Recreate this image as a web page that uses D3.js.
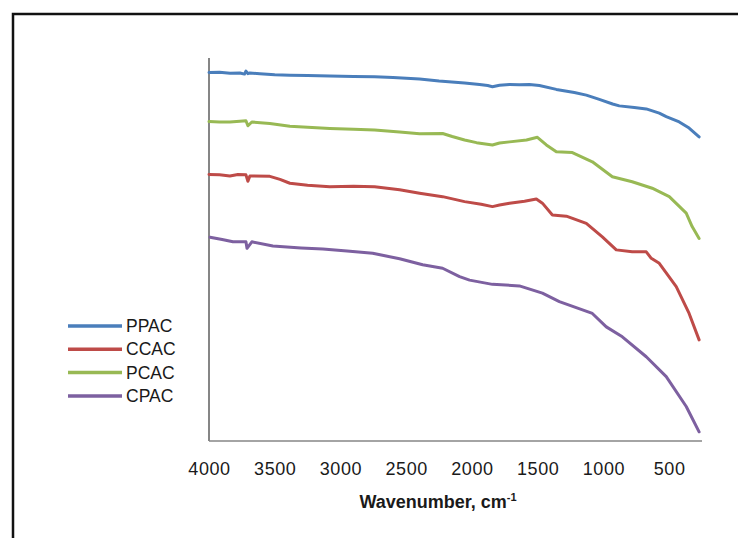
<!DOCTYPE html>
<html>
<head>
<meta charset="utf-8">
<script src="https://cdn.jsdelivr.net/npm/d3@7"></script>
<style>
  body { margin: 0; background: #fff; }
  svg { display: block; }
</style>
</head>
<body>
<div id="chart"></div>
<script>
// FTIR spectra: [wavenumber cm-1, transmittance (a.u.)]
const PPAC = [[4000,96.2],[3920,96.3],[3840,96.0],[3765,96.1],[3730,95.8],[3719,96.6],[3704,95.9],[3689,96.1],[3613,95.9],
  [3500,95.6],[3385,95.5],[3250,95.4],[3081,95.3],[2900,95.2],[2740,95.1],[2600,94.9],[2398,94.5],[2250,94.0],[2056,93.5],
  [1942,93.1],[1880,92.8],[1844,92.5],[1790,92.9],[1714,93.1],[1640,93.0],[1563,93.1],[1487,92.8],[1358,91.8],[1221,91.0],
  [1130,90.3],[1031,89.2],[930,88.0],[879,87.5],[765,87.1],[674,86.7],[575,85.6],[522,84.7],[423,83.3],[348,81.7],[272,79.4]];

const CCAC = [[4000,69.6],[3920,69.5],[3841,69.2],[3780,69.6],[3719,69.5],[3704,67.8],[3689,69.2],[3537,69.1],[3460,68.3],
  [3385,67.3],[3250,66.8],[3081,66.4],[2900,66.5],[2740,66.4],[2550,65.6],[2398,64.7],[2223,63.8],[2056,62.5],[1930,61.8],
  [1844,61.2],[1790,61.6],[1714,62.1],[1600,62.6],[1510,63.2],[1464,62.1],[1388,59.0],[1282,58.7],[1130,56.8],[1008,53.3],
  [902,49.9],[781,49.4],[674,49.4],[636,47.7],[575,46.4],[446,40.3],[348,33.3],[272,26.4]];

const PCAC = [[4000,83.4],[3920,83.3],[3841,83.3],[3765,83.5],[3719,83.6],[3704,82.3],[3674,83.3],[3537,82.9],[3385,82.2],
  [3250,81.9],[3081,81.6],[2900,81.4],[2740,81.2],[2550,80.7],[2398,80.2],[2223,80.3],[2150,79.5],[2056,78.6],[1965,77.9],
  [1844,77.3],[1790,77.8],[1714,78.1],[1585,78.6],[1502,79.3],[1434,77.3],[1358,75.5],[1236,75.3],[1084,72.9],[932,69.0],
  [781,67.7],[629,66.0],[499,63.8],[370,59.5],[325,56.0],[272,52.9]];

const CPAC = [[3992,53.2],[3900,52.6],[3818,52.0],[3719,52.0],[3711,50.3],[3674,52.0],[3514,50.9],[3300,50.4],[3134,50.1],
  [2950,49.6],[2755,49.0],[2550,47.6],[2375,46.0],[2223,45.1],[2094,42.9],[2018,42.0],[1844,40.9],[1639,40.5],[1464,38.6],
  [1335,36.4],[1084,33.3],[978,29.8],[856,27.2],[674,22.0],[522,16.8],[370,9.0],[272,2.4]];

const seriesNames = ['PPAC', 'CCAC', 'PCAC', 'CPAC'];
const seriesData = [PPAC, CCAC, PCAC, CPAC];
const seriesColours = ['#4a7ebb', '#be4b48', '#98b954', '#7d60a0'];
const xTicks = [4000, 3500, 3000, 2500, 2000, 1500, 1000, 500];

const WIDTH = 738, HEIGHT = 538;
const PLOT = { left: 209, right: 702, top: 58, bottom: 441 };
const FONT = 'Liberation Sans, Arial, sans-serif';

const svg = d3.select('#chart').append('svg')
    .attr('width', WIDTH)
    .attr('height', HEIGHT);

// outer frame, runs off the right and bottom edges
svg.append('rect')
    .attr('x', 13).attr('y', 14)
    .attr('width', 800).attr('height', 600)
    .attr('fill', '#fff')
    .attr('stroke', '#111')
    .attr('stroke-width', 2.5);

const x = d3.scaleLinear().domain([4000, 250]).range([PLOT.left, PLOT.right]);
const y = d3.scaleLinear().domain([0, 100]).range([PLOT.bottom, PLOT.top]);

// axes (no tick marks, no y labels)
const xAxis = svg.append('g')
    .attr('transform', 'translate(0,' + PLOT.bottom + ')')
    .call(d3.axisBottom(x).tickValues(xTicks).tickFormat(d3.format('d'))
        .tickSize(0).tickPadding(21).tickSizeOuter(0));
xAxis.select('.domain').attr('stroke', '#868686').attr('stroke-width', 1.5)
    .attr('d', 'M' + PLOT.left + ',0H' + PLOT.right);
xAxis.selectAll('text')
    .attr('font-family', FONT)
    .attr('font-size', 18)
    .attr('letter-spacing', 0.6)
    .attr('fill', '#1a1a1a');

svg.append('line')
    .attr('x1', PLOT.left).attr('x2', PLOT.left)
    .attr('y1', PLOT.top).attr('y2', PLOT.bottom)
    .attr('stroke', '#868686')
    .attr('stroke-width', 2);

const title = svg.append('text')
    .attr('x', 438).attr('y', 508)
    .attr('text-anchor', 'middle')
    .attr('font-family', FONT)
    .attr('font-size', 18)
    .attr('font-weight', 'bold')
    .attr('fill', '#1a1a1a')
    .text('Wavenumber, cm');
title.append('tspan')
    .attr('font-size', 11)
    .attr('dy', -7)
    .text('-1');

const line = d3.line()
    .x(d => x(d[0]))
    .y(d => y(d[1]));

svg.append('g').selectAll('path')
    .data(seriesData)
    .join('path')
    .attr('d', line)
    .attr('fill', 'none')
    .attr('stroke', (d, i) => seriesColours[i])
    .attr('stroke-width', 3)
    .attr('stroke-linejoin', 'round')
    .attr('stroke-linecap', 'round');

// legend
const legend = svg.append('g')
    .selectAll('g')
    .data(seriesNames)
    .join('g')
    .attr('transform', (d, i) => 'translate(68,' + (326 + i * 23.3) + ')');
legend.append('line')
    .attr('x1', 0).attr('x2', 54)
    .attr('stroke', (d, i) => seriesColours[i])
    .attr('stroke-width', 3.5);
legend.append('text')
    .attr('x', 58).attr('y', 6)
    .attr('font-family', FONT)
    .attr('font-size', 17.5)
    .attr('fill', '#1a1a1a')
    .text(d => d);
</script>
</body>
</html>
